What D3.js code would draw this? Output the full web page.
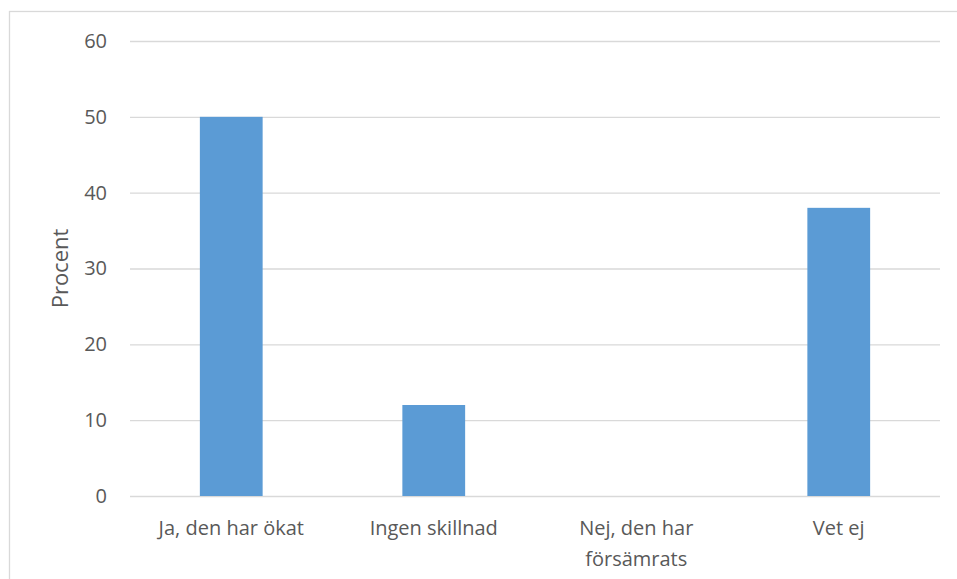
<!DOCTYPE html>
<html>
<head>
<meta charset="utf-8">
<script src="https://cdn.jsdelivr.net/npm/d3@7"></script>
<style>
  body { margin: 0; background: #fff; }
  text { font-family: "Open Sans", "Noto Sans", sans-serif; fill: #595959; }
</style>
</head>
<body>
<svg id="chart" width="957" height="579"></svg>
<script>
const categories = ['Ja, den har ökat', 'Ingen skillnad', 'Nej, den har försämrats', 'Vet ej'];
const categoryLines = [['Ja, den har ökat'], ['Ingen skillnad'], ['Nej, den har', 'försämrats'], ['Vet ej']];
const values = [50, 12, 0, 38];
const yTicks = [0, 10, 20, 30, 40, 50, 60];

const svg = d3.select('#chart');
const margin = {left: 130, right: 17, top: 41, bottom: 83};
const width = 957 - margin.left - margin.right;
const height = 579 - margin.top - margin.bottom;

// outer chart border, runs off the canvas right and bottom
svg.append('rect').attr('x', 9.5).attr('y', 11.5)
    .attr('width', 960).attr('height', 600)
    .style('fill', 'none').style('stroke', '#d9d9d9').style('stroke-width', 1.3);

const g = svg.append('g').attr('transform', `translate(${margin.left},${margin.top})`);

const x = d3.scaleBand().domain(categories).range([0, width]).paddingInner(0).paddingOuter(0);
const y = d3.scaleLinear().domain([0, 60]).range([height, 0]);

const yAxis = d3.axisLeft(y).tickValues(yTicks).tickSize(-width).tickPadding(23);
g.append('g').attr('class', 'yaxis').call(yAxis)
    .call(a => a.select('.domain').remove())
    .call(a => a.selectAll('line').style('stroke', '#d9d9d9').style('stroke-width', 1.3))
    .call(a => a.selectAll('text').style('font-size', '20px').style('fill', '#595959')
        .attr('font-family', null));

const barW = x.bandwidth() * 0.31;
g.selectAll('.bar').data(values).enter().append('rect')
    .attr('class', 'bar')
    .attr('x', (d, i) => x(categories[i]) + (x.bandwidth() - barW) / 2)
    .attr('y', d => y(d))
    .attr('width', barW)
    .attr('height', d => height - y(d))
    .style('fill', '#5b9bd5');

const xLabels = g.append('g').attr('transform', `translate(0,${height})`);
categories.forEach((c, i) => {
  const t = xLabels.append('text')
      .attr('x', x(c) + x.bandwidth() / 2)
      .attr('y', 39)
      .attr('text-anchor', 'middle')
      .style('font-size', '20px');
  categoryLines[i].forEach((line, j) => {
    t.append('tspan').attr('x', x(c) + x.bandwidth() / 2)
        .attr('dy', j === 0 ? 0 : 31).text(line);
  });
});

svg.append('text')
    .attr('transform', `translate(68,${margin.top + height / 2}) rotate(-90)`)
    .attr('text-anchor', 'middle')
    .style('font-size', '22px')
    .text('Procent');
</script>
</body>
</html>
